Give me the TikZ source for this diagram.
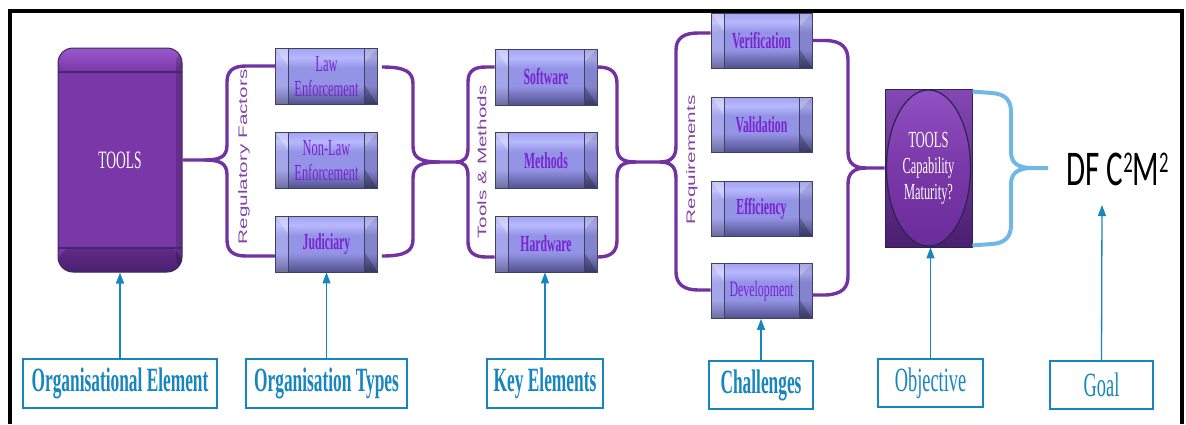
\documentclass[tikz,border=0pt]{standalone}
\usepackage{fontspec}
\usepackage{graphicx}
\setmainfont{Liberation Serif}
\newfontfamily\narrowserif[FakeStretch=0.54]{Liberation Serif}
\newfontfamily\narrowbold[FakeStretch=0.51]{Liberation Serif Bold}
\newfontfamily\plainsans{Liberation Sans}
\newfontfamily\narrowcalibri[FakeStretch=0.62]{Carlito}
\usetikzlibrary{arrows.meta,calc}

\definecolor{toolpurple}{HTML}{7A37A8}
\definecolor{toolhi}{HTML}{9A58CA}
\definecolor{tooldark}{HTML}{4A1F70}
\definecolor{toolline}{HTML}{3E2A6E}
\definecolor{tooledge}{HTML}{3E2A5E}
\definecolor{bracepurple}{HTML}{7232A2}
\definecolor{sidetext}{HTML}{7F45A6}
\definecolor{boxtext}{HTML}{7A22D2}
\definecolor{tbTop}{HTML}{A2A2EE}
\definecolor{tbHi}{HTML}{B8B8FF}
\definecolor{tbMid}{HTML}{9494E6}
\definecolor{tbBot}{HTML}{50508E}
\definecolor{tbEdge}{HTML}{3C4262}
\definecolor{labelblue}{HTML}{1786C0}
\definecolor{goalbrace}{HTML}{72B8E6}
\definecolor{capTop}{HTML}{8448B4}
\definecolor{capBot}{HTML}{4A1E70}
\definecolor{capOvTop}{HTML}{9252C4}
\definecolor{capOvBot}{HTML}{6A2C9A}
\definecolor{capEdge}{HTML}{2C2450}

% body shading of the small bevelled buttons (bottom -> top)
\pgfdeclareverticalshading{tbshade}{100bp}{color(0bp)=(tbBot); color(25bp)=(tbBot);
  color(42bp)=(tbMid); color(58bp)=(tbMid); color(67bp)=(tbHi); color(75bp)=(tbTop); color(100bp)=(tbTop)}

\newcommand{\btnreg}{\narrowserif\fontsize{23}{25}\selectfont}
\newcommand{\btnbold}{\narrowbold\fontsize{23}{25}\selectfont}
\newcommand{\capreg}{\narrowserif\fontsize{34}{36}\selectfont}
\newcommand{\capbold}{\narrowbold\fontsize{34}{36}\selectfont}

\tikzset{
  tbox/.style={rectangle, draw=tbEdge, line width=0.8pt, shading=tbshade,
    minimum width=102pt, minimum height=56pt, inner sep=0pt, align=center,
    text=boxtext, font=\btnbold,
    path picture={
      \coordinate (pnw) at (path picture bounding box.north west);
      \coordinate (pne) at (path picture bounding box.north east);
      \coordinate (psw) at (path picture bounding box.south west);
      \coordinate (pse) at (path picture bounding box.south east);
      % left end cap: lit bevel
      \fill[white,opacity=.16] (pnw) rectangle ($(psw)+(13,0)$);
      \fill[white,opacity=.28] (pnw) -- ($(pnw)+(13,0)$) -- ($(pnw)+(13,18)$) -- cycle;
      % right end cap: shaded bevel
      \fill[black,opacity=.10] ($(pne)+(-13,0)$) rectangle (pse);
      \fill[black,opacity=.22] (pse) -- ($(pse)+(-13,0)$) -- ($(pse)+(-13,-20)$) -- cycle;
      \fill[white,opacity=.22] (pne) -- ($(pne)+(-13,0)$) -- ($(pne)+(-13,14)$) -- cycle;
      \draw[tbEdge, line width=1pt] ($(pnw)+(13,0)$) -- ($(psw)+(13,0)$);
      \draw[tbEdge, line width=1pt] ($(pne)+(-13,0)$) -- ($(pse)+(-13,0)$);
    }},
  toolsbox/.style={rectangle, rounded corners=15pt, draw=tooledge, line width=1pt,
    fill=toolpurple, minimum width=124pt, minimum height=224pt, inner sep=0pt,
    text=white, font=\narrowserif\fontsize{25}{26}\selectfont,
    path picture={
      \coordinate (pnw) at (path picture bounding box.north west);
      \coordinate (pne) at (path picture bounding box.north east);
      \coordinate (psw) at (path picture bounding box.south west);
      \coordinate (pse) at (path picture bounding box.south east);
      \shade[top color=toolhi, bottom color=toolpurple] (pnw) rectangle ($(pne)+(0,24)$);
      \shade[top color=toolpurple!80!black, bottom color=tooldark] ($(psw)+(0,-24)$) rectangle (pse);
      \fill[black,opacity=.18] ($(pne)+(-6,0)$) rectangle (pse);
      \draw[toolline, line width=1.6pt] ($(pnw)+(0,24)$) -- ($(pne)+(0,24)$);
      \draw[toolline, line width=1.6pt] ($(psw)+(0,-24)$) -- ($(pse)+(0,-24)$);
    }},
  capbox/.style={rectangle, draw=capEdge, line width=0.8pt, top color=capTop, bottom color=capBot,
    minimum width=87pt, minimum height=158pt, inner sep=0pt, align=center,
    text=white, font=\narrowserif\fontsize{23}{26}\selectfont,
    path picture={
      \shade[top color=capOvTop, bottom color=capOvBot, middle color=toolpurple]
        (path picture bounding box.center) ellipse [x radius=42, y radius=78];
      \draw[capEdge, line width=1.2pt]
        (path picture bounding box.center) ellipse [x radius=42, y radius=78];
    }},
  sidelabel/.style={rotate=90, inner sep=0pt, text=sidetext,
    font=\plainsans\fontsize{20.7}{22}\selectfont},
  lblbox/.style={rectangle, draw=labelblue, line width=1.6pt, fill=white, inner sep=0pt,
    minimum height=49pt, text=labelblue, font=\capbold},
  brace/.style={draw=bracepurple, line width=3.4pt, line join=round},
  goalbr/.style={draw=goalbrace, line width=4pt, line join=round},
  uparrow/.style={draw=labelblue, line width=1.3pt, -{Triangle[length=11pt,width=8pt]}}
}

\begin{document}
\begin{tikzpicture}[x=1pt, y=-1pt]
\useasboundingbox (0,0) rectangle (1186,424);

% outer frame
\draw[line width=4pt] (10,424) -- (10,11) -- (1182,11) -- (1182,424);

% organisational element
\node[toolsbox] (tools) at (120,160) {TOOLS};

% organisation types
\node[tbox, font=\btnreg] (law) at (326.5,76.5) {Law\\Enforcement};
\node[tbox, font=\btnreg] (nonlaw) at (326.5,160.5) {Non-Law\\Enforcement};
\node[tbox] (jud) at (326.5,244) {Judiciary};

% key elements
\node[tbox] (sw) at (546,77) {Software};
\node[tbox] (meth) at (546,160.5) {Methods};
\node[tbox] (hw) at (546,244) {Hardware};

% challenges
\node[tbox, minimum width=101pt, minimum height=55pt] (ver) at (761.5,40.5) {Verification};
\node[tbox, minimum width=101pt, minimum height=55pt] (val) at (761.5,124.5) {Validation};
\node[tbox, minimum width=101pt, minimum height=55pt] (eff) at (761.5,208.5) {Efficiency};
\node[tbox, minimum width=101pt, minimum height=55pt, font=\narrowserif\fontsize{22}{24}\selectfont] (dev) at (761.5,291) {Development};

% objective
\node[capbox] (cap) at (928.5,168) {TOOLS\\Capability\\Maturity?};

% goal
\node[inner sep=0pt, font=\narrowcalibri\fontsize{50}{50}\selectfont] (dfc) at (1117.5,169)
  {DF C\raisebox{13pt}{\fontsize{30}{30}\selectfont 2}M\raisebox{13pt}{\fontsize{30}{30}\selectfont 2}};
\coordinate (dftip) at (1048,168);
\coordinate (goaltip) at (1102,205);

% rotated group captions
\node[sidelabel] (regf) at (244,157) {\scalebox{1}[0.6]{Regulatory Factors}};
\node[sidelabel] (toolsm) at (482,162) {\scalebox{1}[0.6]{Tools \& Methods}};
\node[sidelabel] (reqs) at (692,160) {\scalebox{1}[0.6]{Requirements}};

% braces: tools -> organisation types
\draw[brace] (tools.east) -- (204,160) .. controls (220,160) and (227,157) .. (227,145) -- (227,82)
  .. controls (227,71) and (233,66) .. (246,66) -- ($(law.west)+(0,-10.5)$);
\draw[brace] (204,160) .. controls (220,160) and (227,163) .. (227,175) -- (227,240)
  .. controls (227,251) and (233,256) .. (246,256) -- ($(jud.west)+(0,12)$);

% organisation types -> key elements
\draw[brace] ($(law.east)+(4,-9.5)$) .. controls (406,67) and (413,72) .. (413,84) -- (413,146)
  .. controls (413,158) and (420,162) .. (440,162) -- (456,162);
\draw[brace] ($(jud.east)+(4,12)$) .. controls (406,256) and (413,251) .. (413,239) -- (413,178)
  .. controls (413,166) and (420,162) .. (440,162);
\draw[brace] (456,162) .. controls (464,162) and (468,158) .. (468,148) -- (468,82)
  .. controls (468,71) and (474,67) .. (486,67) -- ($(sw.west)+(0,-10)$);
\draw[brace] (456,162) .. controls (464,162) and (468,166) .. (468,176) -- (468,242)
  .. controls (468,252) and (474,257) .. (486,257) -- ($(hw.west)+(0,13)$);

% key elements -> challenges
\draw[brace] ($(sw.east)+(0,-10)$) .. controls (611,67) and (617,72) .. (617,84) -- (617,146)
  .. controls (617,158) and (622,162) .. (636,162) -- (660,162);
\draw[brace] ($(hw.east)+(0,13)$) .. controls (611,257) and (617,252) .. (617,240) -- (617,178)
  .. controls (617,166) and (622,162) .. (636,162);
\draw[brace] (660,162) .. controls (671,162) and (676,157) .. (676,146) -- (676,50)
  .. controls (676,38) and (684,33) .. (698,33) -- ($(ver.west)+(0,-7.5)$);
\draw[brace] (660,162) .. controls (671,162) and (676,167) .. (676,178) -- (676,272)
  .. controls (676,284) and (684,290) .. (698,290) -- ($(dev.west)+(0,-1)$);

% challenges -> objective
\draw[brace] (ver.east) -- (826,40.5) .. controls (842,41) and (848,48) .. (848,60) -- (848,152)
  .. controls (848,163) and (854,168) .. (866,168) -- (cap.west);
\draw[brace] ($(dev.east)+(0,4)$) -- (826,295) .. controls (842,294) and (848,288) .. (848,276) -- (848,184)
  .. controls (848,173) and (854,168) .. (866,168);

% objective -> goal
\draw[goalbr] ($(cap.north east)+(0,3)$) -- (992,93) .. controls (1005,94) and (1011,100) .. (1011,112) -- (1011,152)
  .. controls (1011,163) and (1018,168) .. (1032,168) -- (dftip);
\draw[goalbr] ($(cap.south east)+(0,-2)$) -- (992,244) .. controls (1005,243) and (1011,237) .. (1011,225) -- (1011,184)
  .. controls (1011,173) and (1018,168) .. (1032,168);

% bottom captions
\node[lblbox, minimum width=194pt] (oe) at (120,383.5) {Organisational Element};
\node[lblbox, minimum width=161pt] (ot) at (326.5,383.5) {Organisation Types};
\node[lblbox, minimum width=116pt] (ke) at (545,383.5) {Key Elements};
\node[lblbox, minimum width=104pt, minimum height=48pt] (ch) at (761,385) {Challenges};
\node[lblbox, minimum width=105pt, minimum height=48pt, font=\capreg] (ob) at (930.5,383) {Objective};
\node[lblbox, minimum width=103pt, minimum height=48pt, font=\capreg] (go) at (1101.5,385) {Goal};

% caption arrows
\draw[uparrow] (oe.north) -- (oe.north |- tools.south);
\draw[uparrow] (ot.north) -- (ot.north |- jud.south);
\draw[uparrow] (ke.north) -- (ke.north |- hw.south);
\draw[uparrow] (ch.north) -- (ch.north |- dev.south);
\draw[uparrow] (ob.north) -- (ob.north |- cap.south);
\draw[uparrow] (go.north) -- (goaltip);
\end{tikzpicture}
\end{document}
